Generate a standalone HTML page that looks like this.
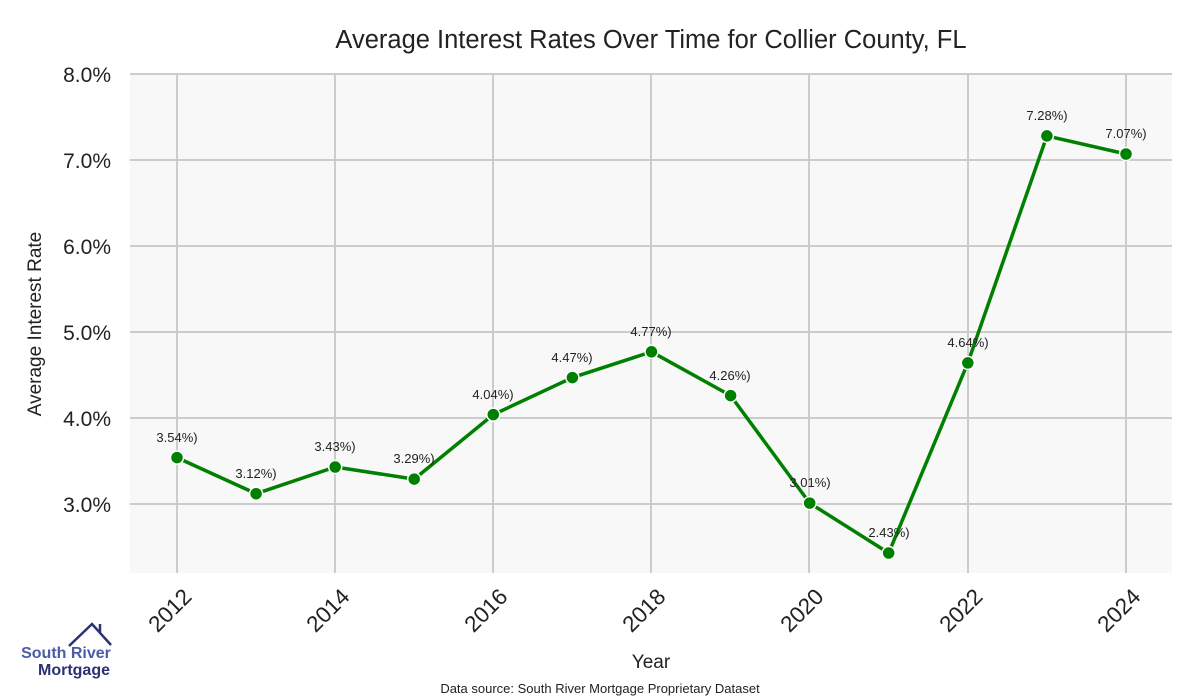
<!DOCTYPE html>
<html><head><meta charset="utf-8"><style>body{margin:0;background:#fff}svg{display:block}text{font-family:"Liberation Sans",sans-serif}</style></head>
<body>
<svg width="1200" height="700" xmlns="http://www.w3.org/2000/svg">
<rect x="130" y="74" width="1042" height="499" fill="#f8f8f8"/>
<g stroke="#cccccc" stroke-width="2">
<line x1="130" x2="1172" y1="74" y2="74"/><line x1="130" x2="1172" y1="160" y2="160"/><line x1="130" x2="1172" y1="246" y2="246"/><line x1="130" x2="1172" y1="332" y2="332"/><line x1="130" x2="1172" y1="418" y2="418"/><line x1="130" x2="1172" y1="504" y2="504"/>
<line x1="177" x2="177" y1="74" y2="573"/><line x1="335" x2="335" y1="74" y2="573"/><line x1="493" x2="493" y1="74" y2="573"/><line x1="651" x2="651" y1="74" y2="573"/><line x1="809" x2="809" y1="74" y2="573"/><line x1="968" x2="968" y1="74" y2="573"/><line x1="1126" x2="1126" y1="74" y2="573"/>
</g>
<text x="651" y="48" font-size="25.5" text-anchor="middle" fill="#222">Average Interest Rates Over Time for Collier County, FL</text>
<g font-size="21" fill="#222" text-anchor="end">
<text x="111" y="82">8.0%</text><text x="111" y="168">7.0%</text><text x="111" y="254">6.0%</text><text x="111" y="340">5.0%</text><text x="111" y="426">4.0%</text><text x="111" y="512">3.0%</text>
</g>
<text transform="translate(41,324) rotate(-90)" font-size="19" text-anchor="middle" fill="#222">Average Interest Rate</text>
<g font-size="22.5" fill="#222" text-anchor="end">
<text transform="translate(193,598) rotate(-45)">2012</text>
<text transform="translate(351,598) rotate(-45)">2014</text>
<text transform="translate(509,598) rotate(-45)">2016</text>
<text transform="translate(667,598) rotate(-45)">2018</text>
<text transform="translate(825,598) rotate(-45)">2020</text>
<text transform="translate(984,598) rotate(-45)">2022</text>
<text transform="translate(1142,598) rotate(-45)">2024</text>
</g>
<text x="651" y="668" font-size="19" text-anchor="middle" fill="#222">Year</text>
<text x="600" y="693" font-size="13" text-anchor="middle" fill="#222">Data source: South River Mortgage Proprietary Dataset</text>
<polyline fill="none" stroke="#008000" stroke-width="3.5" stroke-linejoin="round" points="177,457.6 256.1,493.7 335.2,467 414.2,479.1 493.3,414.6 572.4,377.6 651.5,351.8 730.6,395.6 809.7,503.1 888.7,553 967.8,362.9 1046.9,135.9 1126,154"/>
<g fill="#008000" stroke="#fff" stroke-width="1.5">
<circle cx="177" cy="457.6" r="6.5"/><circle cx="256.1" cy="493.7" r="6.5"/><circle cx="335.2" cy="467" r="6.5"/><circle cx="414.2" cy="479.1" r="6.5"/><circle cx="493.3" cy="414.6" r="6.5"/><circle cx="572.4" cy="377.6" r="6.5"/><circle cx="651.5" cy="351.8" r="6.5"/><circle cx="730.6" cy="395.6" r="6.5"/><circle cx="809.7" cy="503.1" r="6.5"/><circle cx="888.7" cy="553" r="6.5"/><circle cx="967.8" cy="362.9" r="6.5"/><circle cx="1046.9" cy="135.9" r="6.5"/><circle cx="1126" cy="154" r="6.5"/>
</g>
<g font-size="13" fill="#222" text-anchor="middle">
<text x="177" y="442">3.54%)</text><text x="256" y="478">3.12%)</text><text x="335" y="451">3.43%)</text><text x="414" y="463">3.29%)</text><text x="493" y="399">4.04%)</text><text x="572" y="362">4.47%)</text><text x="651" y="336">4.77%)</text><text x="730" y="380">4.26%)</text><text x="810" y="487">3.01%)</text><text x="889" y="537">2.43%)</text><text x="968" y="347">4.64%)</text><text x="1047" y="120">7.28%)</text><text x="1126" y="138">7.07%)</text>
</g>
<polyline points="69,646 92,624 111,645" fill="none" stroke="#2a3270" stroke-width="2.5"/>
<line x1="100" y1="632" x2="100" y2="624" stroke="#2a3270" stroke-width="2.5"/>
<text x="66" y="658" font-size="16" font-weight="bold" fill="#4a5ba8" text-anchor="middle">South River</text>
<text x="74" y="675" font-size="16" font-weight="bold" fill="#2a3270" text-anchor="middle">Mortgage</text>
</svg>
</body></html>
